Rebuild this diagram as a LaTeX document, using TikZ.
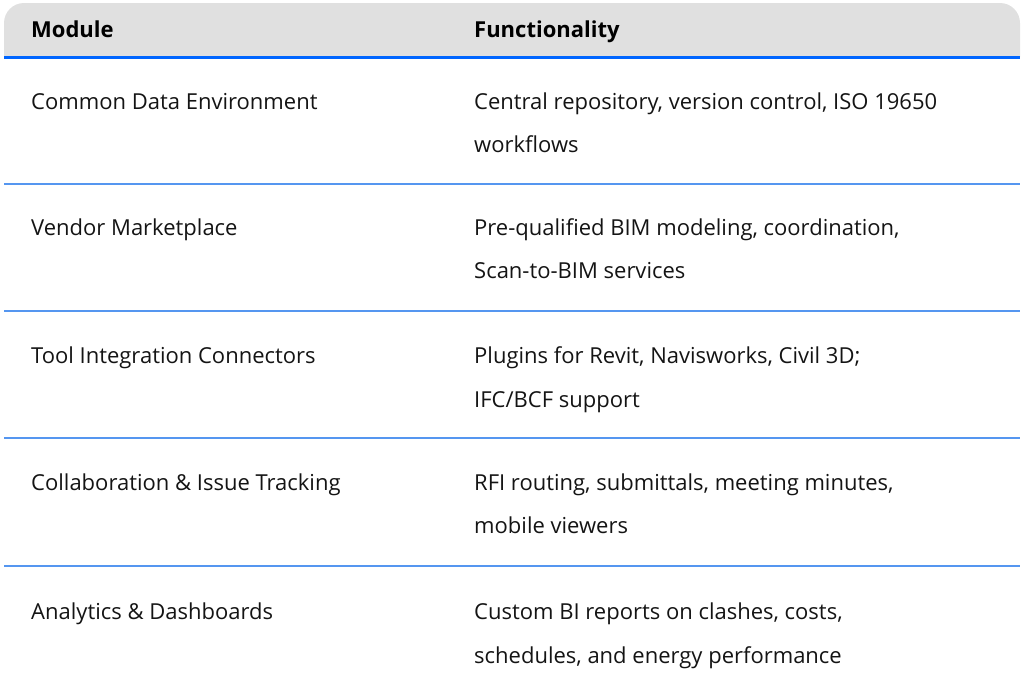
\documentclass[tikz,border=0pt]{standalone}
\usepackage{fontspec}
\setmainfont{Open Sans}
\begin{document}
\begin{tikzpicture}[x=1pt,y=-1pt,
  txt/.style={anchor=base west,inner sep=0pt,font=\fontsize{22}{27}\selectfont,text=black!92},
  hd/.style={anchor=base west,inner sep=0pt,font=\fontsize{22}{27}\selectfont\bfseries,text=black}]
\useasboundingbox (0,0) rectangle (1024,696);
\fill[black!12] (4,57) -- (4,23) [rounded corners=20pt] -- (4,3) -- (1020,3) [sharp corners] -- (1020,57) -- cycle;
\draw[draw={rgb,255:red,0;green,102;blue,255},line width=3pt] (4,57.5) -- (1020,57.5);
\node[hd] (h1) at (31,37) {Module};
\node[hd] (h2) at (474,37) {Functionality};
\foreach \y in {184,311,438,566}{\draw[draw={rgb,255:red,85;green,150;blue,240},line width=2pt] (4,\y) -- (1020,\y);}
\node[txt] (m1) at (31,109) {Common Data Environment};
\node[txt] (f1a) at (474,109) {Central repository, version control, ISO 19650};
\node[txt] (f1b) at (474,152) {workflows};
\node[txt] (m2) at (31,235) {Vendor Marketplace};
\node[txt] (f2a) at (474,235) {Pre-qualified BIM modeling, coordination,};
\node[txt] (f2b) at (474,278) {Scan-to-BIM services};
\node[txt] (m3) at (31,363) {Tool Integration Connectors};
\node[txt] (f3a) at (474,363) {Plugins for Revit, Navisworks, Civil 3D;};
\node[txt] (f3b) at (474,407) {IFC/BCF support};
\node[txt] (m4) at (31,490) {Collaboration \& Issue Tracking};
\node[txt] (f4a) at (474,490) {RFI routing, submittals, meeting minutes,};
\node[txt] (f4b) at (474,533) {mobile viewers};
\node[txt] (m5) at (31,619) {Analytics \& Dashboards};
\node[txt] (f5a) at (474,619) {Custom BI reports on clashes, costs,};
\node[txt] (f5b) at (474,663) {schedules, and energy performance};
\end{tikzpicture}
\end{document}
